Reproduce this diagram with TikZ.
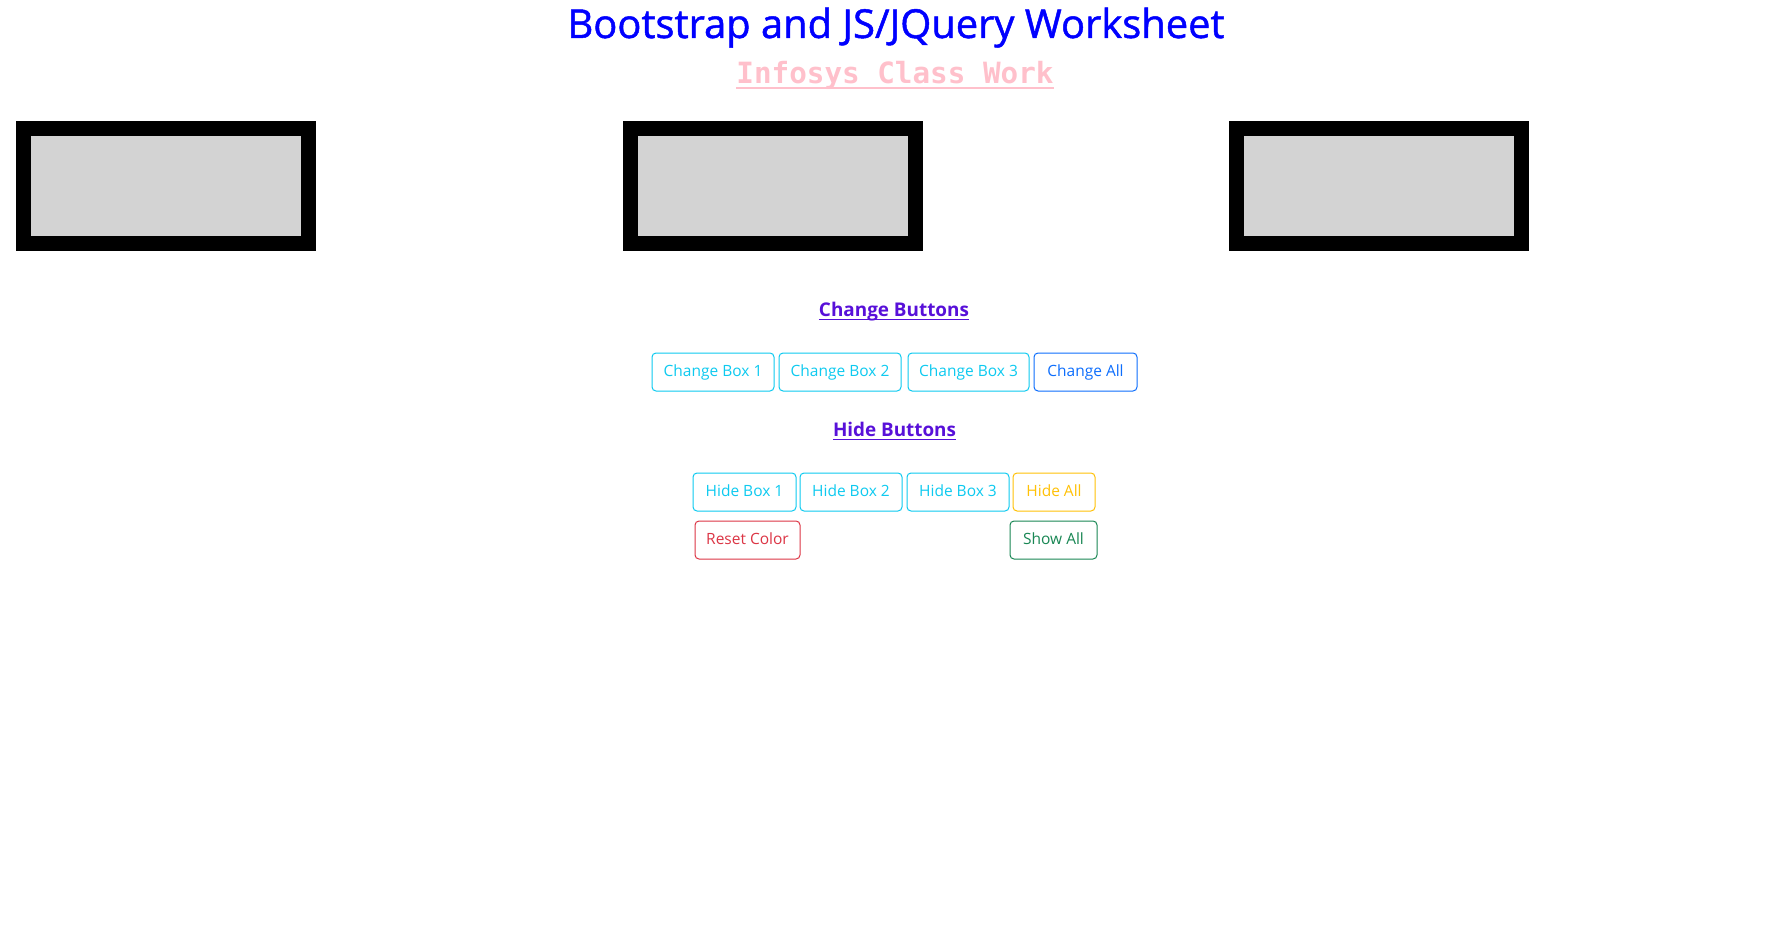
\documentclass[tikz,border=0pt]{standalone}
\usepackage{fontspec}
\setmainfont{Open Sans}
\newfontfamily\monob{DejaVu Sans Mono}
\newfontfamily\titlefont[FakeBold=1.2]{Open Sans}
\usepackage{graphicx}
\definecolor{titleblue}{HTML}{0000FF}
\definecolor{subpink}{HTML}{FFC0CB}
\definecolor{headpurple}{HTML}{5810D9}
\definecolor{boxgray}{HTML}{D3D3D3}
\definecolor{bsinfo}{HTML}{0DCAF0}
\definecolor{bsprimary}{HTML}{0D6EFD}
\definecolor{bswarning}{HTML}{FFC107}
\definecolor{bsdanger}{HTML}{DC3545}
\definecolor{bssuccess}{HTML}{198754}
\begin{document}
\begin{tikzpicture}[x=1pt,y=-1pt,
  panel/.style={draw=black, line width=15pt, fill=boxgray, minimum width=285pt, minimum height=115pt, inner sep=0pt},
  btn/.style={draw=#1, text=#1, rounded corners=4pt, line width=1pt, inner sep=0pt,
     minimum height=38pt, text height=11pt, text depth=3pt, font=\fontsize{15.5}{18}\selectfont},
  txt/.style={inner sep=0pt, anchor=base},
  uline/.style={line width=#1}
]
\useasboundingbox (0,0) rectangle (1782,944);
\fill[white] (0,0) rectangle (1782,944);

% title and subtitle
\node[txt, text=titleblue] (title) at (896,38) {\resizebox{657pt}{!}{\titlefont Bootstrap and JS/JQuery Worksheet}};
\node[txt, text=subpink] (sub) at (895,84) {\resizebox{317pt}{!}{\monob\bfseries Infosys Class Work}};
\draw[subpink, uline=2pt] ([yshift=-4pt]sub.base west) -- ([yshift=-4pt]sub.base east);

% panels
\node[panel] (p1) at (166,186) {};
\node[panel] (p2) at (773,186) {};
\node[panel] (p3) at (1379,186) {};

% headings
\node[txt, text=headpurple] (hc) at (894,316) {\resizebox{150pt}{!}{\bfseries Change Buttons}};
\draw[headpurple, uline=1.6pt] ([yshift=-3.5pt]hc.base west) -- ([yshift=-3.5pt]hc.base east);
\node[txt, text=headpurple] (hh) at (894.5,436) {\resizebox{123pt}{!}{\bfseries Hide Buttons}};
\draw[headpurple, uline=1.6pt] ([yshift=-3.5pt]hh.base west) -- ([yshift=-3.5pt]hh.base east);

% change buttons
\node[btn=bsinfo, minimum width=122pt] (cb1) at (713,372) {Change Box 1};
\node[btn=bsinfo, minimum width=122pt] (cb2) at (840,372) {Change Box 2};
\node[btn=bsinfo, minimum width=121pt] (cb3) at (968.5,372) {Change Box 3};
\node[btn=bsprimary, minimum width=103pt] (ca) at (1085.5,372) {Change All};

% hide buttons
\node[btn=bsinfo, minimum width=103pt] (hb1) at (744.5,492) {Hide Box 1};
\node[btn=bsinfo, minimum width=102pt] (hb2) at (851,492) {Hide Box 2};
\node[btn=bsinfo, minimum width=102pt] (hb3) at (958,492) {Hide Box 3};
\node[btn=bswarning, minimum width=82pt] (ha) at (1054,492) {Hide All};

% bottom row
\node[btn=bsdanger, minimum width=105pt] (rc) at (747.5,540) {Reset Color};
\node[btn=bssuccess, minimum width=87pt] (sa) at (1053.5,540) {Show All};
\end{tikzpicture}
\end{document}
